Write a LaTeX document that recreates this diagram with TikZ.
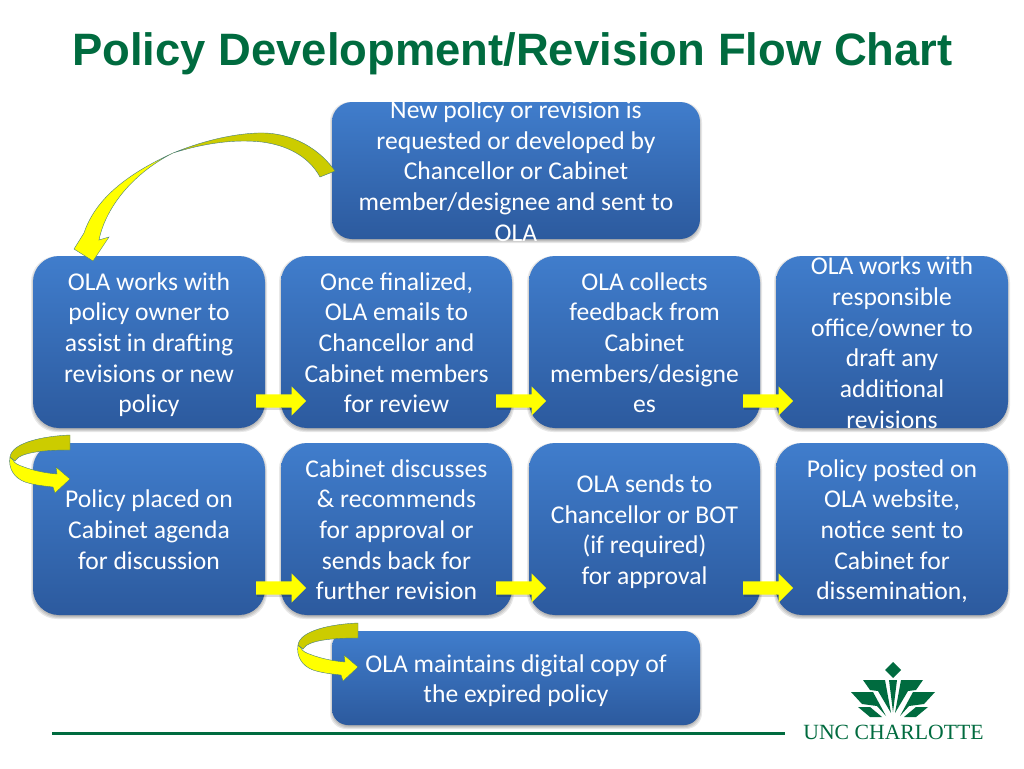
\documentclass[tikz,border=0pt]{standalone}
\usepackage{fontspec}
\setmainfont{Carlito}
\newfontfamily\titlefont{Liberation Sans}
\newfontfamily\logofont{Liberation Serif}
\usetikzlibrary{shapes.arrows}
\definecolor{boxtop}{RGB}{64,125,204}
\definecolor{boxbot}{RGB}{44,90,158}
\definecolor{unc}{RGB}{0,107,63}
\definecolor{yel}{RGB}{255,255,0}
\definecolor{olive}{RGB}{204,204,0}
\definecolor{edgec}{RGB}{70,125,125}
\tikzset{
  x=1pt,y=-1pt,
  bluebox/.style={shading=axis,top color=boxtop,bottom color=boxbot,shading angle=0,draw=none,inner sep=0pt,anchor=center},
  softshadow/.style={fill=black,opacity=0.09,draw=none},
  boxtext/.style={text=white,align=center,inner sep=0pt,font=\fontsize{25.6}{30.7}\selectfont},
  yarrow/.style={single arrow,fill=yel,inner sep=0pt,minimum height=50pt,single arrow head extend=8pt,single arrow head indent=0pt,anchor=west},
  curvein/.style={draw=edgec,line width=0.4pt,fill=yel},
  curveout/.style={draw=edgec,line width=0.4pt,fill=olive},
  logo/.style={fill=unc,draw=none},
}
\newcommand{\flowbox}[7]{% name x1 y1 x2 y2 radius text
  \foreach \g in {0,1,2,3}{
    \fill[softshadow,rounded corners=#6pt] ({#2-\g+1},{#3+3-\g}) rectangle ({#4+\g-1},{#5+\g+1});
  }
  \node[bluebox,rounded corners=#6pt,minimum width={#4pt-#2pt},minimum height={#5pt-#3pt}] (#1) at ({(#2+#4)/2},{(#3+#5)/2}) {};
  \node[boxtext,text width={#4pt-#2pt},yshift=-3.3pt] (#1t) at (#1.center) {\spaceskip=5.8pt\relax\strut #7\strut};
}
\newcommand{\blockarrow}[3]{%
  \fill[black,opacity=0.15] ({#2+1},{#3-5}) rectangle ({#2+37},{#3+9});
  \node[yarrow] (#1) at (#2,#3) {\rule{0pt}{13pt}};
}
\newcommand{\curl}[2]{%
  \begin{scope}[shift={(#1,#2)}]
    \path[curvein] (10,457) .. controls (8,468) and (14,478) .. (25,482) .. controls (34,485) and (44,486) .. (53,487)
      -- (55,493) -- (70,479) -- (56,467) -- (57,474) .. controls (44,473) and (32,470) .. (24,467) .. controls (18,465) and (14,463) .. (13,460) -- cycle;
    \path[curveout] (70,435) .. controls (45,436) and (12,442) .. (10,457) -- (15,461) .. controls (20,452) and (45,450) .. (70,450) -- cycle;
  \end{scope}
}
\begin{document}
\begin{tikzpicture}
\useasboundingbox (0,0) rectangle (1024,768);
\fill[white] (0,0) rectangle (1024,768);
\node[anchor=base west,inner sep=0pt,text=unc,font=\titlefont\bfseries\fontsize{45.4}{50}\selectfont] (title) at (72,65) {Policy Development/Revision Flow Chart};
\coordinate (ruleL) at (52,733.5);
\coordinate (ruleR) at (785,733.5);
\draw[unc,line width=3.5pt] (ruleL) -- (ruleR);

\flowbox{top}{332}{102}{700}{239}{20}{New policy or revision is\\requested or developed by\\Chancellor or Cabinet\\member/designee and sent to\\OLA}
\flowbox{a}{33}{256}{265}{428}{26}{OLA works with\\policy owner to\\assist in drafting\\revisions or new\\policy}
\flowbox{b}{281}{256}{512}{428}{26}{Once finalized,\\OLA emails to\\Chancellor and\\Cabinet members\\for review}
\flowbox{c}{529}{256}{760}{428}{26}{OLA collects\\feedback from\\Cabinet\\members/designe\\es}
\flowbox{d}{776}{256}{1008}{428}{26}{OLA works with\\responsible\\office/owner to\\draft any\\additional\\revisions}
\flowbox{e}{33}{443}{265}{615}{26}{Policy placed on\\Cabinet agenda\\for discussion}
\flowbox{f}{281}{443}{512}{615}{26}{Cabinet discusses\\\& recommends\\for approval or\\sends back for\\further revision}
\flowbox{g}{529}{443}{760}{615}{26}{OLA sends to\\Chancellor or BOT\\(if required)\\for approval}
\flowbox{h}{776}{443}{1008}{615}{26}{Policy posted on\\OLA website,\\notice sent to\\Cabinet for\\dissemination,}
\flowbox{z}{332}{631}{700}{725}{16}{OLA maintains digital copy of\\the expired policy}

\blockarrow{ab}{256}{401}
\blockarrow{bc}{496}{401}
\blockarrow{cd}{743}{401}
\blockarrow{ef}{256}{588}
\blockarrow{fg}{496}{588}
\blockarrow{gh}{743}{588}

% big curved arrow
\path[curvein] (173,153) .. controls (125,175) and (95,200) .. (84,233) -- (74,249) -- (93,261) -- (109,237) -- (99,240) .. controls (105,210) and (130,175) .. (173,153) -- cycle;
\path[curveout] (335,171) .. controls (315,143) and (285,132) .. (258,133) .. controls (230,134) and (200,142) .. (173,153) .. controls (205,143) and (235,139) .. (262,142) .. controls (285,145) and (308,155) .. (320,177) -- cycle;

\curl{0}{0}
\curl{288}{188}

% logo
\path[logo] (893,662) -- (901,670) -- (893,678) -- (885,670) -- cycle;
\path[logo] (863,680) -- (885,680) -- (891,713) -- (878,691) -- (870,690) -- cycle;
\path[logo] (923,680) -- (901,680) -- (895,713) -- (908,691) -- (916,690) -- cycle;
\path[logo] (851,692) -- (873,692) -- (886,716) -- (877,706) -- (862,704) -- cycle;
\path[logo] (935,692) -- (913,692) -- (900,716) -- (909,706) -- (924,704) -- cycle;
\path[logo] (858,707) -- (870,707) -- (882,717) -- (870,717) -- cycle;
\path[logo] (928,707) -- (916,707) -- (904,717) -- (916,717) -- cycle;
\path[logo] (889,680) -- (897,680) -- (893,712) -- cycle;
\node[anchor=base,inner sep=0pt,text=unc,font=\logofont\fontsize{21.7}{21.7}\selectfont] (logotext) at (893.5,739.5) {UNC CHARLOTTE};
\end{tikzpicture}
\end{document}
